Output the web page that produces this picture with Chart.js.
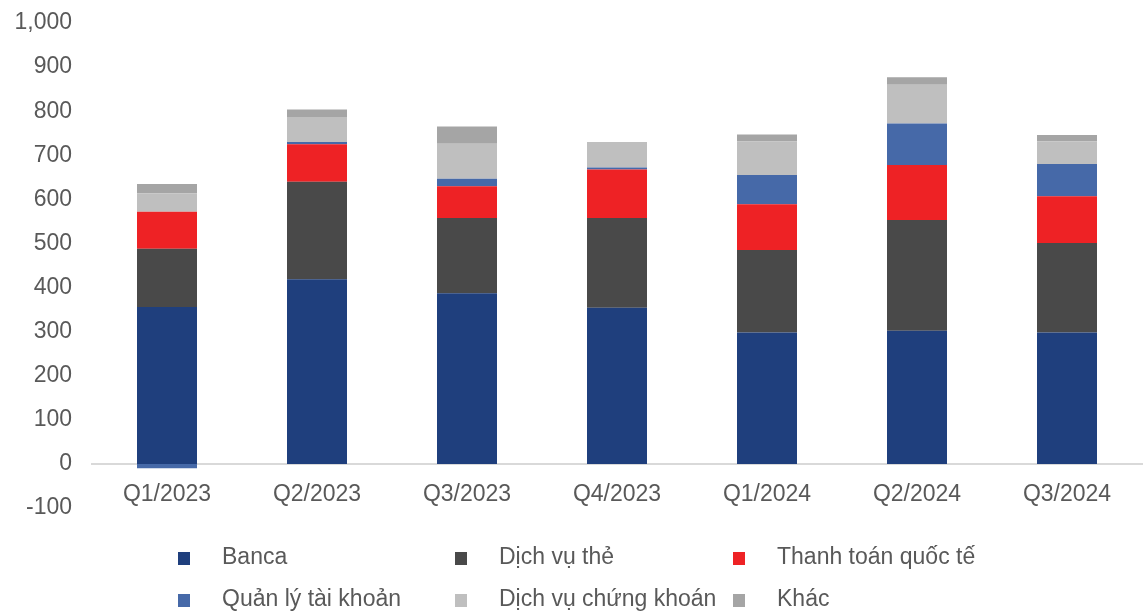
<!DOCTYPE html>
<html>
<head>
<meta charset="utf-8">
<script src="https://cdn.jsdelivr.net/npm/chart.js@4"></script>
<style>
  html, body { margin: 0; padding: 0; background: #fff; }
  #wrap { width: 1143px; height: 611px; position: relative; }
</style>
</head>
<body>
<div id="wrap"><canvas id="feeChart"></canvas></div>
<script>
// quarters on the x axis
const quarters = ['Q1/2023', 'Q2/2023', 'Q3/2023', 'Q4/2023', 'Q1/2024', 'Q2/2024', 'Q3/2024'];

// series values
const banca      = [356, 419, 387, 354, 298, 302, 298];
const dichVuThe  = [132, 221, 171, 204, 187, 251, 203];
const thanhToan  = [84, 85, 72, 110, 104, 125, 106];
const quanLyTK   = [-10, 5, 17, 4, 66, 94, 73];
const chungKhoan = [42, 57, 79, 58, 76, 88, 52];
const khac       = [21, 17, 39, 0, 16, 17, 14];

const seriesNames = ['Banca', 'Dịch vụ thẻ', 'Thanh toán quốc tế', 'Quản lý tài khoản', 'Dịch vụ chứng khoán', 'Khác'];
const seriesColors = ['#1F3F7D', '#494949', '#EE2225', '#4669A8', '#BFBFBF', '#A5A5A5'];
const seriesData = [banca, dichVuThe, thanhToan, quanLyTK, chungKhoan, khac];

const FONT = 'Liberation Sans, Arial, sans-serif';
const TEXT = '#595959';

// legend in a fixed 3 column grid under the plot
const gridLegend = {
  id: 'gridLegend',
  afterDraw(chart) {
    const ctx = chart.ctx;
    const colX = [178, 455, 733];
    const rowY = [558, 600];
    ctx.save();
    ctx.font = '23px ' + FONT;
    ctx.textBaseline = 'middle';
    ctx.textAlign = 'left';
    chart.data.datasets.forEach((ds, i) => {
      const x = colX[i % 3];
      const y = rowY[Math.floor(i / 3)];
      ctx.fillStyle = ds.backgroundColor;
      ctx.fillRect(x, y - 6, 12, 13);
      ctx.fillStyle = TEXT;
      ctx.fillText(ds.label, x + 44, y);
    });
    ctx.restore();
  }
};

const ctx = document.getElementById('feeChart').getContext('2d');

new Chart(ctx, {
  type: 'bar',
  data: {
    labels: quarters,
    datasets: seriesNames.map((name, i) => ({
      label: name,
      data: seriesData[i],
      backgroundColor: seriesColors[i],
      borderWidth: 0,
      barPercentage: 0.4,
      categoryPercentage: 1.0
    }))
  },
  options: {
    responsive: true,
    maintainAspectRatio: false,
    animation: false,
    layout: { padding: { left: 0, right: 1, top: 23, bottom: 103 } },
    plugins: {
      legend: { display: false },
      tooltip: { enabled: false }
    },
    scales: {
      x: {
        stacked: true,
        position: { y: 0 },
        grid: { display: false, drawTicks: false },
        border: { display: true, color: '#D9D9D9', width: 2 },
        ticks: { color: TEXT, font: { family: FONT, size: 23 }, padding: 17, maxRotation: 0 }
      },
      y: {
        stacked: true,
        min: -100,
        max: 1000,
        grid: { display: false, drawTicks: false },
        border: { display: false },
        afterFit: scale => {
          scale.width = 92;
          scale.paddingTop = 0;
          scale.paddingBottom = 0;
        },
        ticks: {
          stepSize: 100,
          color: TEXT,
          padding: 20,
          font: { family: FONT, size: 23 },
          callback: v => v.toLocaleString('en-US')
        }
      }
    }
  },
  plugins: [gridLegend]
});
</script>
</body>
</html>
